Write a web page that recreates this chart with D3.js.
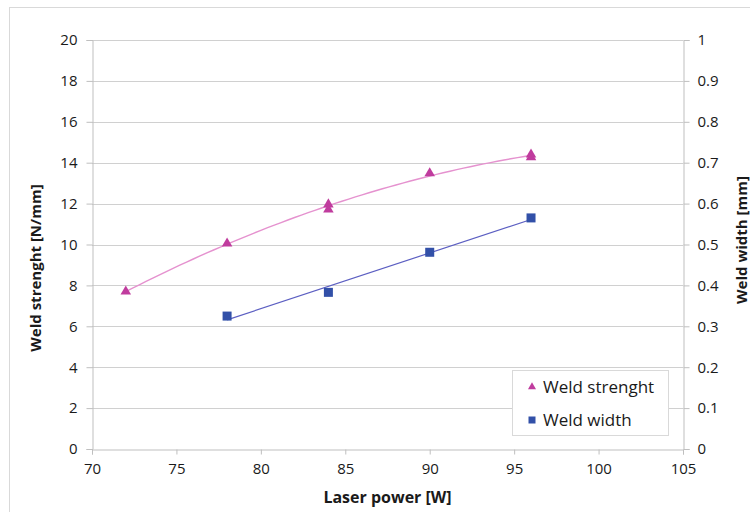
<!DOCTYPE html>
<html><head><meta charset="utf-8">
<script src="https://cdn.jsdelivr.net/npm/d3@7"></script>
<style>body{margin:0;background:#fff;} svg{display:block;font-family:"Open Sans",sans-serif;}</style>
</head><body>
<svg id="c" width="750" height="512"></svg>
<script>
// Data
const strengthPower = [72, 78, 84, 84, 90, 96, 96];
const strengthValues = [7.7, 10.05, 11.96, 11.71, 13.48, 14.40, 14.27];
const widthPower = [78, 84, 90, 96];
const widthValues = [0.325, 0.383, 0.481, 0.565];
const xTicks = [70, 75, 80, 85, 90, 95, 100, 105];
const yLeftTicks = [0, 2, 4, 6, 8, 10, 12, 14, 16, 18, 20];
const yRightTicks = [0, 0.1, 0.2, 0.3, 0.4, 0.5, 0.6, 0.7, 0.8, 0.9, 1];
const seriesNames = ["Weld strenght", "Weld width"];

const svg = d3.select("#c");
const L = 92, R = 683, T = 40, B = 449;
const x = d3.scaleLinear().domain([70, 105]).range([L, R]);
const yL = d3.scaleLinear().domain([0, 20]).range([B, T]);
const yR = d3.scaleLinear().domain([0, 1]).range([B, T]);

const pink = "#c03c9e", pinkLine = "#e592cf", blue = "#3250a8", blueLine = "#5c5fc2";
const txt = "#1a1a1a";

// outer border
svg.append("rect").attr("x", 9.5).attr("y", 7.5).attr("width", 760).attr("height", 520)
  .attr("fill", "#fff").attr("stroke", "#d9d9d9");

// gridlines
svg.append("g").selectAll("line").data(yLeftTicks.slice(1)).join("line")
  .attr("x1", L).attr("x2", R).attr("y1", d => Math.round(yL(d)) + 0.5).attr("y2", d => Math.round(yL(d)) + 0.5)
  .attr("stroke", "#d0d0d0");

// axes
const axL = d3.axisLeft(yL).tickValues(yLeftTicks).tickSize(6).tickFormat(d3.format("d"));
const gL = svg.append("g").attr("transform", `translate(${L + 0.5},0)`).call(axL);
const axR = d3.axisRight(yR).tickValues(yRightTicks).tickSize(6).tickFormat(d => d === 0 || d === 1 ? String(d) : d3.format(".1f")(d));
const gR = svg.append("g").attr("transform", `translate(${R + 0.5},0)`).call(axR);
const axB = d3.axisBottom(x).tickValues(xTicks).tickSize(5).tickFormat(d3.format("d"));
const gB = svg.append("g").attr("transform", `translate(0,${B + 0.5})`).call(axB);
[gL, gR, gB].forEach(g => {
  g.select(".domain").attr("stroke", "#bfbfbf");
  g.selectAll(".tick line").attr("stroke", "#bfbfbf");
  g.selectAll(".tick text").attr("fill", txt).attr("font-size", 15).attr("font-family", '"Open Sans",sans-serif');
});
gL.selectAll(".tick text").attr("x", -15);
gR.selectAll(".tick text").attr("x", 14);
gB.selectAll(".tick text").attr("y", 14);

// titles
svg.append("text").attr("x", x(87.5)).attr("y", 503).attr("text-anchor", "middle")
  .attr("font-weight", "bold").attr("font-size", 16).attr("fill", txt).text("Laser power [W]");
svg.append("text").attr("transform", "translate(41,268) rotate(-90)").attr("text-anchor", "middle")
  .attr("font-weight", "bold").attr("font-size", 15).attr("fill", txt).text("Weld strenght [N/mm]");
svg.append("text").attr("transform", "translate(747,240) rotate(-90)").attr("text-anchor", "middle")
  .attr("font-weight", "bold").attr("font-size", 15).attr("fill", txt).text("Weld width [mm]");

// polynomial (order 2) trendline for strength
function polyfit2(xs, ys) {
  const n = xs.length;
  let s = [0, 0, 0, 0, 0], t = [0, 0, 0];
  for (let i = 0; i < n; i++) {
    const xi = xs[i] - 84;
    for (let k = 0; k < 5; k++) s[k] += Math.pow(xi, k);
    for (let k = 0; k < 3; k++) t[k] += ys[i] * Math.pow(xi, k);
  }
  const A = [[s[0], s[1], s[2], t[0]], [s[1], s[2], s[3], t[1]], [s[2], s[3], s[4], t[2]]];
  for (let i = 0; i < 3; i++) {
    for (let j = i + 1; j < 3; j++) {
      const f = A[j][i] / A[i][i];
      for (let k = i; k < 4; k++) A[j][k] -= f * A[i][k];
    }
  }
  const c = [0, 0, 0];
  for (let i = 2; i >= 0; i--) {
    let v = A[i][3];
    for (let k = i + 1; k < 3; k++) v -= A[i][k] * c[k];
    c[i] = v / A[i][i];
  }
  return xv => c[0] + c[1] * (xv - 84) + c[2] * (xv - 84) * (xv - 84);
}
function linfit(xs, ys) {
  const mx = d3.mean(xs), my = d3.mean(ys);
  let sxy = 0, sxx = 0;
  xs.forEach((xi, i) => { sxy += (xi - mx) * (ys[i] - my); sxx += (xi - mx) * (xi - mx); });
  const b = sxy / sxx;
  return xv => my + b * (xv - mx);
}
const fS = polyfit2(strengthPower, strengthValues);
const sx = d3.extent(strengthPower);
const curvePts = d3.range(0, 61).map(i => sx[0] + (sx[1] - sx[0]) * i / 60);
svg.append("path").attr("d", d3.line().x(d => x(d)).y(d => yL(fS(d)))(curvePts))
  .attr("fill", "none").attr("stroke", pinkLine).attr("stroke-width", 1.4);

const fW = linfit(widthPower, widthValues);
const wx = d3.extent(widthPower);
svg.append("path").attr("d", d3.line().x(d => x(d)).y(d => yR(fW(d)))(wx))
  .attr("fill", "none").attr("stroke", blueLine).attr("stroke-width", 1.2);

// markers
const tri = d3.symbol().type(d3.symbolTriangle).size(48);
svg.append("g").selectAll("path").data(strengthPower).join("path")
  .attr("transform", (d, i) => `translate(${x(d)},${yL(strengthValues[i])})`)
  .attr("d", tri).attr("fill", pink);
svg.append("g").selectAll("rect").data(widthPower).join("rect")
  .attr("x", d => x(d) - 4.5).attr("y", (d, i) => yR(widthValues[i]) - 4.5)
  .attr("width", 9).attr("height", 9).attr("fill", blue);

// legend
svg.append("rect").attr("x", 512.5).attr("y", 370.5).attr("width", 156).attr("height", 65)
  .attr("fill", "#fff").attr("stroke", "#d9d9d9");
svg.append("path").attr("transform", "translate(532,387)").attr("d", d3.symbol().type(d3.symbolTriangle).size(28)).attr("fill", pink);
svg.append("rect").attr("x", 528.5).attr("y", 416.5).attr("width", 7).attr("height", 7).attr("fill", blue);
svg.append("text").attr("x", 543).attr("y", 393).attr("font-size", 17).attr("fill", txt).text(seriesNames[0]);
svg.append("text").attr("x", 543).attr("y", 426).attr("font-size", 17).attr("fill", txt).text(seriesNames[1]);
</script>
</body></html>
